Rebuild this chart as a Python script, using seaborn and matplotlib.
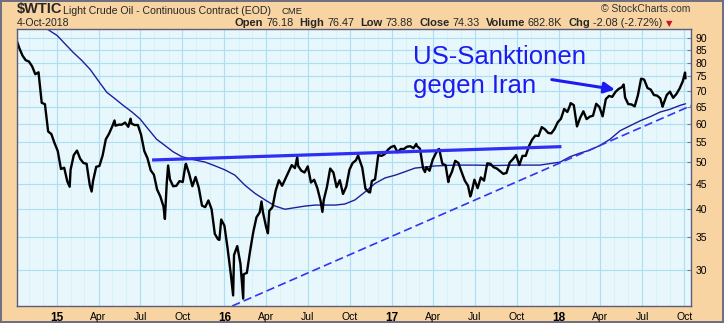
import numpy as np
import pandas as pd
import matplotlib
matplotlib.use("Agg")
import matplotlib.pyplot as plt
import matplotlib.dates as mdates
from matplotlib.ticker import FixedLocator, FuncFormatter, NullLocator
import seaborn as sns

# ---------------- data ----------------
# weekly closes (Fridays)
close_2014 = [89.7, 85.8, 82.8, 81.0, 80.5, 78.7, 75.8, 76.5, 66.2, 65.8, 57.8, 57.1, 54.7]
close_2015 = [52.7, 48.4, 48.7, 45.6, 48.2, 51.7, 52.8, 50.8, 49.8, 49.6, 44.8, 45.7, 48.9,
              49.1, 51.6, 55.7, 57.2, 59.2, 59.4, 59.7, 59.7, 60.3, 59.1, 60.0, 59.6, 59.6,
              56.9, 52.7, 50.9, 48.1, 47.1, 43.9, 42.5, 40.5, 45.2, 46.1, 44.6, 44.7, 45.7,
              45.5, 49.6, 47.3, 44.6, 46.6, 44.3, 40.7, 40.4, 41.7, 40.0, 35.6, 34.7, 38.1]
close_2016 = [37.0, 33.2, 29.4, 32.2, 33.6, 30.9, 29.4, 29.6, 32.8, 35.9, 38.5, 39.4, 39.5,
              36.8, 39.7, 40.4, 43.7, 45.9, 44.7, 46.2, 47.8, 49.3, 48.6, 49.1, 48.0, 47.6,
              49.0, 45.4, 46.0, 44.2, 41.6, 41.8, 44.5, 48.5, 47.6, 44.4, 45.9, 43.0, 44.5,
              48.2, 49.8, 50.4, 50.9, 48.7, 44.1, 43.4, 45.7, 46.1, 51.7, 51.5, 51.9, 53.0, 53.7]
close_2017 = [54.0, 52.4, 53.2, 53.2, 53.8, 53.9, 53.4, 54.0, 53.3, 48.5, 48.8, 48.0, 50.6,
              52.2, 53.2, 49.6, 49.3, 46.2, 47.8, 50.3, 49.8, 47.7, 45.8, 44.7, 43.0, 46.0,
              44.2, 46.5, 45.8, 49.7, 49.6, 48.8, 48.5, 47.9, 47.3, 47.5, 49.9, 50.7, 51.7,
              49.3, 51.5, 51.5, 53.9, 55.6, 56.7, 56.6, 59.0, 58.4, 57.4, 57.3, 58.5, 60.4]
close_2018 = [61.4, 64.3, 63.4, 66.1, 65.5, 59.2, 61.7, 63.6, 61.3, 62.0, 62.3, 65.9, 64.9,
              62.1, 67.4, 68.4, 68.1, 69.7, 70.7, 71.3, 67.9, 65.8, 65.7, 65.1, 68.6, 74.2,
              73.8, 71.0, 70.5, 68.7, 68.5, 67.6, 65.9, 68.7, 69.8, 67.8, 69.0, 70.8, 73.3]
week_starts = ["2014-10-03", "2015-01-02", "2016-01-01", "2017-01-06", "2018-01-05"]

# daily extremes visible in the chart
extra_dates = ["2015-01-28", "2015-03-17", "2015-05-06", "2015-06-10", "2015-08-24",
               "2015-08-31", "2015-10-08", "2015-12-21", "2016-01-20", "2016-02-11",
               "2016-03-22", "2016-04-05", "2016-06-08", "2016-08-02", "2016-10-19",
               "2016-11-14", "2017-02-23", "2017-03-14", "2017-04-12", "2017-05-04",
               "2017-06-21", "2018-01-25", "2018-05-22", "2018-07-03", "2018-08-15",
               "2018-10-03", "2018-10-04"]
extra_close = [44.5, 43.5, 60.9, 61.4, 38.2, 49.2, 49.4, 34.6, 26.6, 26.2,
               41.5, 35.7, 51.2, 39.5, 51.6, 43.3, 54.5, 47.7, 53.1, 45.5,
               42.5, 65.5, 72.2, 74.1, 65.0, 76.4, 74.33]

# 200-day moving average
ma_dates = ["2014-11-24", "2015-01-01", "2015-01-18", "2015-02-05", "2015-02-23", "2015-03-14",
            "2015-04-01", "2015-04-19", "2015-05-07", "2015-05-25", "2015-06-13", "2015-07-01",
            "2015-07-19", "2015-08-06", "2015-08-24", "2015-09-11", "2015-09-30", "2015-10-25",
            "2015-11-20", "2015-12-12", "2016-01-02", "2016-01-24", "2016-02-15", "2016-03-08",
            "2016-03-30", "2016-04-21", "2016-05-12", "2016-06-03", "2016-06-25", "2016-07-17",
            "2016-08-08", "2016-08-30", "2016-09-20", "2016-10-12", "2016-11-03", "2016-11-25",
            "2016-12-17", "2017-01-08", "2017-01-30", "2017-02-20", "2017-04-05", "2017-05-19",
            "2017-07-01", "2017-08-14", "2017-09-27", "2017-11-20", "2018-01-03", "2018-01-25",
            "2018-02-16", "2018-03-09", "2018-03-31", "2018-04-22", "2018-05-14", "2018-06-05",
            "2018-06-27", "2018-07-19", "2018-08-10", "2018-08-31", "2018-09-22", "2018-10-04"]
ma_values = [96.0, 91.0, 87.5, 84.0, 81.0, 77.5, 73.4, 69.6, 67.5, 65.4, 63.4, 61.3,
             58.4, 55.7, 54.1, 52.5, 51.3, 50.6, 50.0, 49.1, 48.2, 47.0, 44.8, 43.1,
             41.8, 40.6, 40.0, 40.3, 40.6, 40.8, 40.8, 40.8, 41.0, 41.8, 43.4, 45.2,
             46.4, 47.0, 47.8, 48.6, 49.1, 49.3, 49.3, 49.2, 49.3, 49.3, 50.0, 51.3,
             52.2, 52.9, 54.1, 55.7, 58.0, 59.4, 60.8, 62.0, 63.4, 64.2, 65.4, 65.9]

# drawn trend lines
neck_dates = ["2015-07-27", "2018-01-06"]
neck_values = [50.5, 53.8]
trend_dates = ["2016-01-18", "2018-10-16"]
trend_values = [25.3, 65.3]

# annotation arrow
arrow_tail = ("2017-12-16", 73.9)
arrow_head = ("2018-05-03", 70.5)

y_ticks = [30, 35, 40, 45, 50, 55, 60, 65, 70, 75, 80, 85, 90]

header_pairs = [("Open", "76.18"), ("High", "76.47"), ("Low", "73.88"), ("Close", "74.33"),
                ("Volume", "682.8K"), ("Chg", "-2.08 (-2.72%)")]

# ---------------- build frames ----------------
parts = []
for start, vals in zip(week_starts, [close_2014, close_2015, close_2016, close_2017, close_2018]):
    d = pd.date_range(start, periods=len(vals), freq="7D")
    parts.append(pd.DataFrame({"date": d, "close": vals}))
parts.append(pd.DataFrame({"date": pd.to_datetime(extra_dates), "close": extra_close}))
price = pd.concat(parts).sort_values("date").reset_index(drop=True)
ma = pd.DataFrame({"date": pd.to_datetime(ma_dates), "ma": ma_values})

# ---------------- figure ----------------
sns.set_style("white")
plt.rcParams["font.family"] = ["Liberation Sans", "DejaVu Sans"]

W, H = 724, 323
fig = plt.figure(figsize=(W / 100, H / 100), dpi=100)
fig.patch.set_facecolor("#F8D4A3")
fig.patch.set_edgecolor("#6f6f7f")
fig.patch.set_linewidth(1.5)

ax = fig.add_axes([17 / W, (H - 306) / H, (691 - 17) / W, (306 - 29) / H])
ax.set_facecolor("#E7F7FB")

ax.set_yscale("log")
ax.set_ylim(25.3, 93.9)
ax.set_xlim(pd.Timestamp("2014-10-05"), pd.Timestamp("2018-10-16"))

# grid
ax.yaxis.set_major_locator(FixedLocator(y_ticks))
ax.yaxis.set_minor_locator(NullLocator())
ax.yaxis.set_major_formatter(FuncFormatter(lambda v, p: f"{v:g}"))
ax.xaxis.set_minor_locator(mdates.MonthLocator())
qticks = pd.date_range("2015-01-01", "2018-10-01", freq="QS-JAN")
qlabels = [f"{d.year % 100:02d}" if d.month == 1 else d.strftime("%b") for d in qticks]
ax.set_xticks(qticks)
ax.set_xticklabels(qlabels)
ax.grid(True, which="major", axis="both", color="#abdff4", lw=0.8)
ax.grid(True, which="minor", axis="x", color="#c6eaf7", lw=0.6, ls=(0, (1, 1)))
ax.set_axisbelow(True)

# series
sns.lineplot(data=ma, x="date", y="ma", ax=ax, color="#1f1f9c", lw=1.0, sort=True)
sns.lineplot(data=price, x="date", y="close", ax=ax, color="black", lw=1.7, sort=True)
ax.plot(pd.to_datetime(neck_dates), neck_values, color="#2e2ef5", lw=2.3, solid_capstyle="butt")
ax.plot(pd.to_datetime(trend_dates), trend_values, color="#3434f0", lw=1.2, ls=(0, (5, 2.5)))

ax.annotate("", xy=(pd.Timestamp(arrow_head[0]), arrow_head[1]),
            xytext=(pd.Timestamp(arrow_tail[0]), arrow_tail[1]),
            arrowprops=dict(arrowstyle="-|>", color="#1c1cf0", lw=2.2, mutation_scale=16,
                            shrinkA=0, shrinkB=0))

fig.text(413 / W, 1 - 63.5 / H, "US-Sanktionen", color="#1c1cf0", fontsize=18.5,
         ha="left", va="baseline")
fig.text(413 / W, 1 - 93.5 / H, "gegen Iran", color="#1c1cf0", fontsize=18.5,
         ha="left", va="baseline")

# axes styling
ax.set_xlabel("")
ax.set_ylabel("")
for s in ax.spines.values():
    s.set_color("#5c5c78")
    s.set_linewidth(1.0)
ax.yaxis.tick_right()
ax.tick_params(axis="y", which="major", direction="in", length=3, color="#7a7a99",
               labelsize=7.5, pad=3.5, labelcolor="black")
ax.tick_params(axis="x", which="both", length=0, labelsize=7.5, pad=4, labelcolor="black")
for lab, d in zip(ax.get_xticklabels(), qticks):
    if d.month == 1:
        lab.set_fontweight("bold")
        lab.set_fontsize(8.5)

# header
def fx(px):
    return px / W

def fy(py):
    return 1 - py / H

fig.text(fx(17), fy(13.5), "$WTIC", fontsize=10.5, fontweight="bold", va="baseline", ha="left")
fig.text(fx(63), fy(13.5), "Light Crude Oil - Continuous Contract (EOD)", fontsize=7.6,
         va="baseline", ha="left")
fig.text(fx(282), fy(13.5), "CME", fontsize=6.8, va="baseline", ha="left")
fig.text(fx(690), fy(11.5), "\u00a9 StockCharts.com", fontsize=7.5, color="#333333",
         va="baseline", ha="right")
fig.text(fx(17), fy(26.5), "4-Oct-2018", fontsize=7.6, va="baseline", ha="left")

fig.canvas.draw()
renderer = fig.canvas.get_renderer()
xpos = 235.0
for lab, val in header_pairs:
    t1 = fig.text(fx(xpos), fy(26.5), lab, fontsize=8, fontweight="bold", va="baseline", ha="left")
    xpos += t1.get_window_extent(renderer).width + 3
    t2 = fig.text(fx(xpos), fy(26.5), val, fontsize=7.8, va="baseline", ha="left")
    xpos += t2.get_window_extent(renderer).width + 6
fig.text(fx(xpos - 3), fy(26.5), "\u25bc", fontsize=6, color="#c8102e", va="baseline",
         ha="left", family="DejaVu Sans")

fig.savefig("out.png", dpi=100, facecolor=fig.get_facecolor(), edgecolor=fig.get_edgecolor())
